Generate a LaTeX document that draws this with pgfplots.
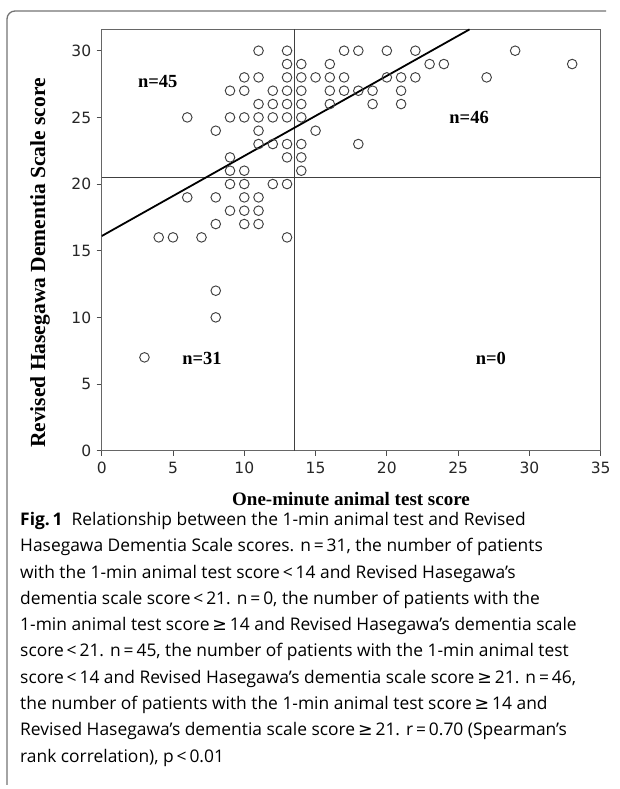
\documentclass[border=0pt]{standalone}
\usepackage{fontspec}
\setmainfont{Liberation Serif}
\newfontfamily\tickfont{DejaVu Sans}
\newfontfamily\capfont{Open Sans}
\usepackage{pgfplots}
\usepackage{pgfplotstable}
\pgfplotsset{compat=1.18}
\newcommand{\gesym}{{\tickfont ≥}}

\pgfplotstableread{
x y
11 30
13 30
17 30
18 30
20 30
22 30
29 30
13 29
14 29
16 29
23 29
24 29
33 29
10 28
11 28
13 28
14 28
15 28
16 28
17 28
20 28
21 28
22 28
27 28
9 27
10 27
12 27
13 27
14 27
16 27
17 27
18 27
19 27
21 27
11 26
12 26
13 26
14 26
16 26
19 26
21 26
6 25
9 25
10 25
11 25
12 25
13 25
14 25
8 24
11 24
15 24
11 23
12 23
13 23
14 23
18 23
9 22
13 22
14 22
9 21
10 21
14 21
9 20
10 20
12 20
13 20
6 19
8 19
10 19
11 19
9 18
10 18
11 18
8 17
10 17
11 17
4 16
5 16
7 16
13 16
8 12
8 10
3 7
}\datatable

\pgfplotstableread{
x y
0 16.1
25.8 31.6
}\regline

\begin{document}
\begin{tikzpicture}[x=1pt,y=1pt]
\useasboundingbox (0,0) rectangle (619,789);
\draw[black!55, line width=1.3pt] (7,4) -- (7,770) arc[start angle=180,end angle=90,radius=8] -- (606,778);
\begin{axis}[
  at={(101.7pt,338.3pt)}, anchor=south west,
  scale only axis, width=499pt, height=421.7pt,
  xmin=0, xmax=35, ymin=0, ymax=31.63,
  xtick={0,5,...,35}, ytick={0,5,...,30},
  tick pos=left, tick align=outside, major tick length=5pt,
  axis line style={black!60, line width=0.9pt},
  tick style={black!70, line width=0.9pt},
  /pgf/number format/assume math mode=true,
  ticklabel style={font=\tickfont\fontsize{15.5}{16}\selectfont, text=black!85},
  xticklabel style={yshift=-3pt},
  yticklabel style={xshift=-2pt},
]
\addplot[black!75, line width=0.9pt] coordinates {(13.5,0) (13.5,31.63)};
\addplot[black!75, line width=0.9pt] coordinates {(0,20.5) (35,20.5)};
\addplot[black, line width=1.8pt] table {\regline};
\addplot[only marks, mark=o, mark size=4.8pt, mark options={black!75, line width=0.95pt}] table {\datatable};
\node[font=\bfseries\fontsize{18.5}{19}\selectfont] at (axis cs:3.93,27.66) {n=45};
\node[font=\bfseries\fontsize{18.5}{19}\selectfont] at (axis cs:25.77,24.96) {n=46};
\node[font=\bfseries\fontsize{18.5}{19}\selectfont] at (axis cs:7.03,6.95) {n=31};
\node[font=\bfseries\fontsize{18.5}{19}\selectfont] at (axis cs:27.3,6.95) {n=0};
\end{axis}
\node[font=\bfseries\fontsize{19}{20}\selectfont] at (351,290) {One-minute animal test score};
\node[font=\bfseries\fontsize{21.5}{22}\selectfont, rotate=90] at (40,526) {Revised Hasegawa Dementia Scale score};
\node[anchor=north west, align=left, inner sep=0pt, font=\capfont\fontsize{17.4}{26.3}\selectfont] at (20,277) {%
{\bfseries Fig.\,1}\ \ Relationship between the 1-min animal test and Revised\\
Hasegawa Dementia Scale scores. n\,=\,31, the number of patients\\
with the 1-min animal test score\,<\,14 and Revised Hasegawa’s\\
dementia scale score\,<\,21. n\,=\,0, the number of patients with the\\
1-min animal test score\,\gesym\,14 and Revised Hasegawa’s dementia scale\\
score\,<\,21. n\,=\,45, the number of patients with the 1-min animal test\\
score\,<\,14 and Revised Hasegawa’s dementia scale score\,\gesym\,21. n\,=\,46,\\
the number of patients with the 1-min animal test score\,\gesym\,14 and\\
Revised Hasegawa’s dementia scale score\,\gesym\,21. r\,=\,0.70 (Spearman’s\\
rank correlation), p\,<\,0.01};
\end{tikzpicture}
\end{document}
